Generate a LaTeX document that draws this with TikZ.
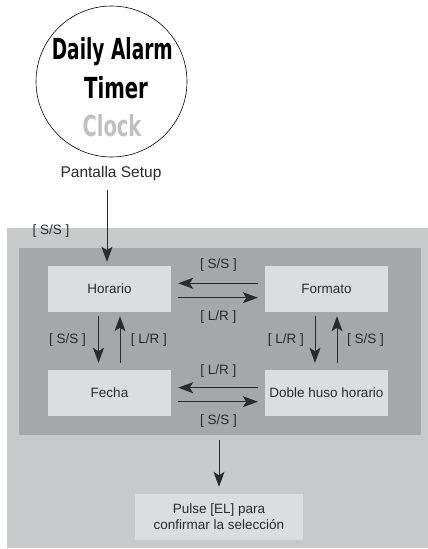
\documentclass[tikz,border=0pt]{standalone}
\usepackage{fontspec}
\usepackage{graphicx}
\setmainfont{Liberation Sans}
\newfontfamily\lcd{DejaVu Sans}
\usetikzlibrary{arrows.meta,calc}
\definecolor{tg}{HTML}{2B2B2B}
\definecolor{outc}{HTML}{C8C9CB}
\definecolor{innc}{HTML}{A6A7AA}
\definecolor{boxc}{HTML}{DCDDDF}
\definecolor{clockc}{HTML}{C0C0C2}
\begin{document}
\begin{tikzpicture}[x=1pt,y=-1pt,
  txt/.style={text=tg, font=\fontsize{13.5}{16}\selectfont},
  box/.style={fill=boxc, minimum width=123pt, minimum height=46pt, inner sep=0pt, align=center, txt},
  arr/.style={draw=tg, line width=1pt, -{Stealth[length=15pt,width=11pt,inset=3.5pt]}},
  lbl/.style={txt, inner sep=0pt},
  lcdtxt/.style={anchor=base, inner sep=0pt, font=\lcd\bfseries\fontsize{29}{29}\selectfont}
]
\useasboundingbox (0,0) rectangle (428,549);
\fill[white] (0,0) rectangle (428,549);
% display
\node[circle, draw=black, line width=0.6pt, minimum size=151pt, inner sep=0pt] (disp) at (111.5,81.5) {};
\node[lcdtxt, text=black] (l1) at (112.3,59.5) {\scalebox{0.64}[1]{Daily Alarm}};
\node[lcdtxt, text=black] (l2) at (116,98.3) {\scalebox{0.68}[1]{Timer}};
\node[lcdtxt, text=clockc] (l3) at (112,136) {\scalebox{0.67}[1]{Clock}};
\node[text=tg, font=\fontsize{15.5}{18}\selectfont] (ps) at (111,173) {Pantalla Setup};
% panels
\fill[outc] (7,228) rectangle (428,548);
\node[fill=innc, minimum width=402pt, minimum height=187pt, inner sep=0pt, anchor=north west] (inner) at (19,248) {};
% boxes
\node[box] (hor) at (109.5,289) {Horario};
\node[box] (for) at (326.5,289) {Formato};
\node[box] (fec) at (109.5,393) {Fecha};
\node[box] (dob) at (326.5,393) {Doble huso horario};
\node[box, minimum width=168pt] (pul) at (219,517) {Pulse [EL] para\\confirmar la selección};
% entry arrow
\draw[arr] ([xshift=-4pt,yshift=-6.5pt]ps.south) -- ([xshift=-2.5pt,yshift=4pt]hor.north);
\node[lbl] (e1) at (51,231) {[ S/S ]};
% top pair
\draw[arr] ($(for.west)+(-7,-5.7)$) -- ($(hor.east)+(7,-5.7)$);
\draw[arr] ($(hor.east)+(7,8.7)$) -- ($(for.west)+(-7,8.7)$);
\node[lbl] (t1) at (218.5,265) {[ S/S ]};
\node[lbl] (t2) at (218.5,317) {[ L/R ]};
% bottom pair
\draw[arr] ($(dob.west)+(-7,-5.3)$) -- ($(fec.east)+(7,-5.3)$);
\draw[arr] ($(fec.east)+(7,8.7)$) -- ($(dob.west)+(-7,8.7)$);
\node[lbl] (b1) at (218.5,371) {[ L/R ]};
\node[lbl] (b2) at (218.5,421) {[ S/S ]};
% left verticals
\draw[arr] ($(hor.south)+(-11,4)$) -- ($(fec.north)+(-11,-7)$);
\draw[arr] ($(fec.north)+(10.5,-7)$) -- ($(hor.south)+(10.5,4)$);
\node[lbl] (v1) at (67.5,340) {[ S/S ]};
\node[lbl] (v2) at (149,340) {[ L/R ]};
% right verticals
\draw[arr] ($(for.south)+(-11.5,4)$) -- ($(dob.north)+(-11.5,-7)$);
\draw[arr] ($(dob.north)+(10.5,-7)$) -- ($(for.south)+(10.5,4)$);
\node[lbl] (v3) at (286,340) {[ L/R ]};
\node[lbl] (v4) at (365.5,340) {[ S/S ]};
% exit arrow
\draw[arr] ($(inner.south -| pul.north)+(0,5)$) -- ($(pul.north)+(0,-7)$);
\end{tikzpicture}
\end{document}
